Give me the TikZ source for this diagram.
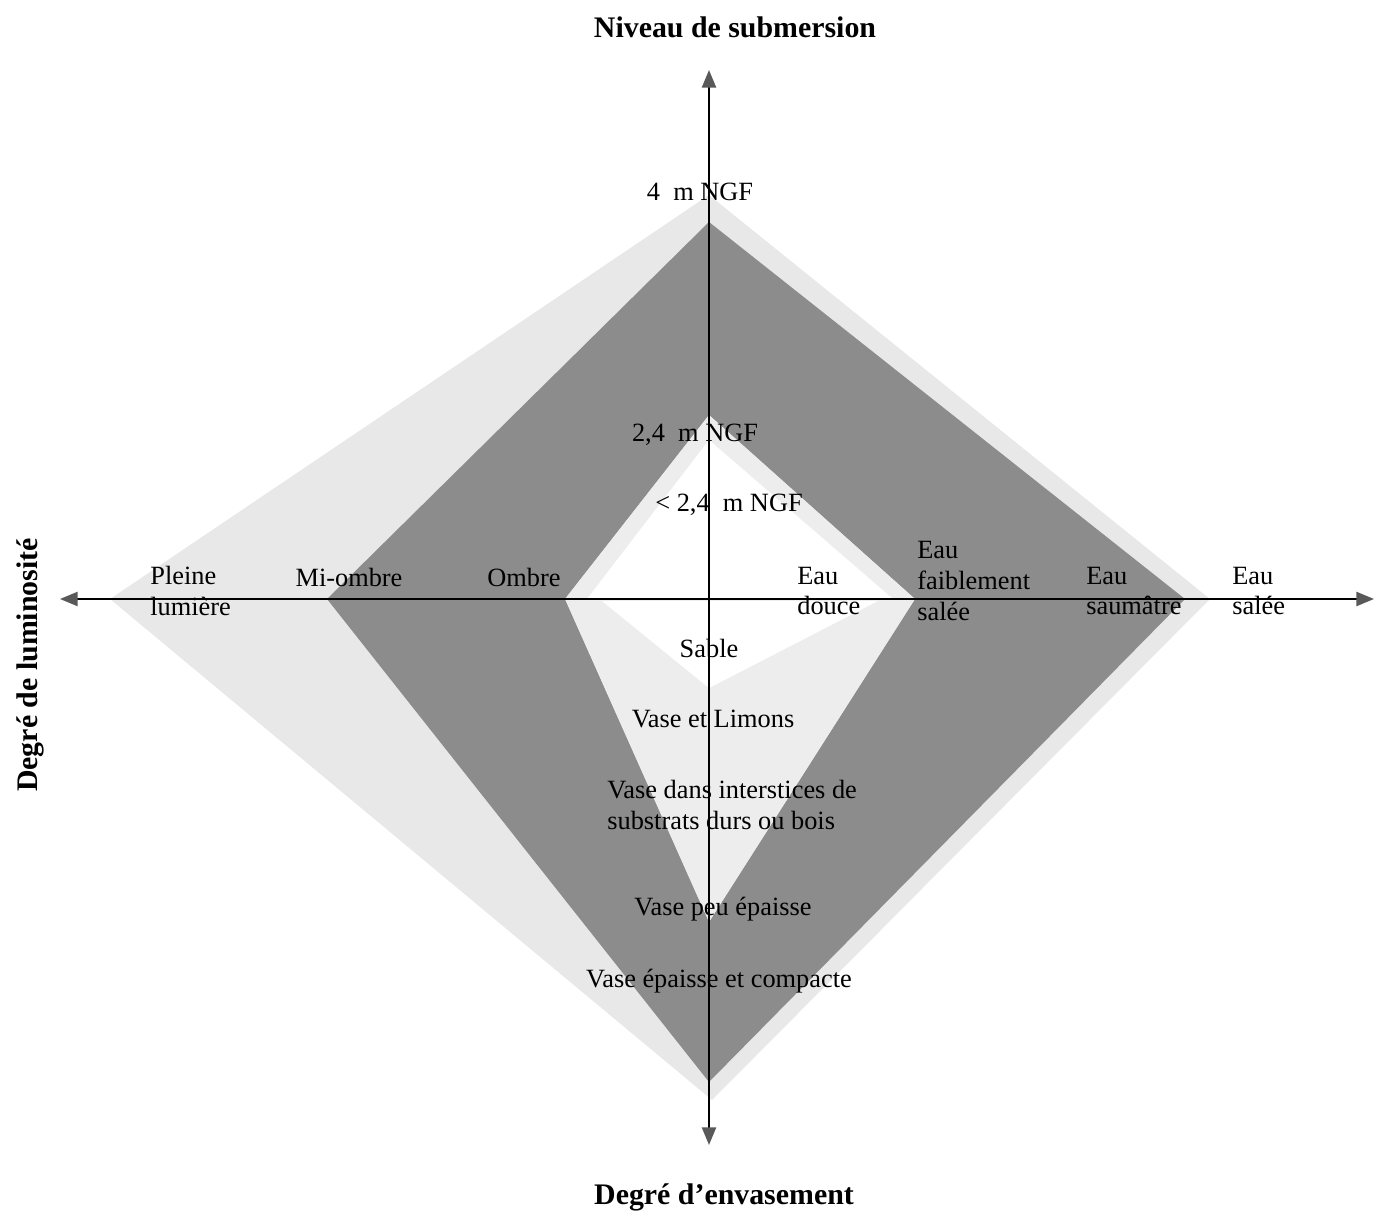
\documentclass[tikz,border=0pt]{standalone}
\usepackage{fontspec}
\setmainfont{Liberation Serif}
\usepackage{tikz}
\usetikzlibrary{arrows.meta,positioning}

\begin{document}
\begin{tikzpicture}[
  x=0.02cm, y=-0.02cm,
  every node/.style={font=\fontsize{15}{17.5}\selectfont, inner sep=0pt, anchor=center},
  titre/.style={font=\fontsize{17}{20}\selectfont\bfseries},
  lab/.style={align=left, anchor=west},
  halo/.style={fill=black!9},
  bande/.style={fill=black!45},
  creux/.style={fill=black!7},
  pointe/.style={Triangle[length=10pt, width=8pt, color=black!65]},
  axe/.style={line width=1.1pt, {Triangle[length=10pt, width=8pt, color=black!65]}-{Triangle[length=10pt, width=8pt, color=black!65]}}
]
  \useasboundingbox (0,0) rectangle (1376,1216);

  % --- Zones grisees ---
  \fill[halo] (709,195) -- (1210,599) -- (712,1100) -- (110,599) -- cycle;
  \fill[bande, even odd rule]
    (709,222) -- (1185,599) -- (709,1082) -- (327,599) -- cycle
    (709,415) -- (915,599) -- (709,922) -- (565,599) -- cycle;
  \fill[creux] (709,415) -- (915,599) -- (709,922) -- (565,599) -- cycle;
  \fill[white] (709,440) -- (893,599) -- (587,599) -- cycle;
  \fill[white] (602,601) -- (878,601) -- (709,688) -- cycle;

  % --- Axes ---
  \coordinate (haut)   at (709,70);
  \coordinate (bas)    at (709,1145);
  \coordinate (gauche) at (60,599);
  \coordinate (droite) at (1374,599);
  \draw[axe] (bas) -- (haut);
  \draw[axe] (gauche) -- (droite);

  % --- Titres des axes ---
  \node[titre] (niveau) at (735,27) {Niveau de submersion};
  \node[titre] (envas) at (724,1197) {Degré d’envasement};
  \node[titre, rotate=90] (lumino) at (30,665) {Degré de luminosité};

  % --- Submersion ---
  \node (h4)   at (700,192) {4\ \ m NGF};
  \node (h24)  at (695,435) {2,4\ \ m NGF};
  \node (hinf) at (729,505) {\textless\ 2,4\ \ m NGF};

  % --- Luminosite ---
  \node[lab] (pleine) at (150,591) {Pleine\\lumière};
  \node (miombre) at (349,577) {Mi-ombre};
  \node (ombre) at (524,577) {Ombre};

  % --- Salinite ---
  \node[lab] (douce)  at (797,591)  {Eau\\douce};
  \node[lab] (faible) at (917,581)  {Eau\\faiblement\\salée};
  \node[lab] (saum)   at (1086,591) {Eau\\saumâtre};
  \node[lab] (salee)  at (1232,591) {Eau\\salée};

  % --- Envasement ---
  \node (sable) at (709,648) {Sable};
  \node (limons) at (713,719) {Vase et Limons};
  \node[lab] (inters) at (607,805) {Vase dans interstices de\\substrats durs ou bois};
  \node (peu) at (723,909) {Vase peu épaisse};
  \node (compacte) at (719,981) {Vase épaisse et compacte};
\end{tikzpicture}
\end{document}
